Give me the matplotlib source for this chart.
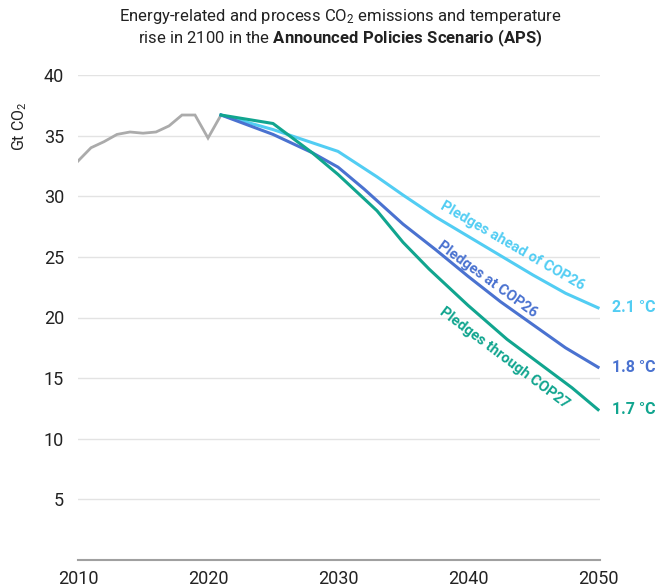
import matplotlib
matplotlib.use("Agg")
import matplotlib.pyplot as plt

plt.rcParams['font.family'] = ['Roboto', 'DejaVu Sans']
plt.rcParams['mathtext.fontset'] = 'custom'
plt.rcParams['mathtext.rm'] = 'Roboto'
plt.rcParams['mathtext.bf'] = 'Roboto:bold'
plt.rcParams['mathtext.it'] = 'Roboto:italic'

hist_years = [2010, 2011, 2012, 2013, 2014, 2015, 2016, 2017, 2018, 2019, 2020, 2021]
hist_vals = [32.9, 34.0, 34.5, 35.1, 35.3, 35.2, 35.3, 35.8, 36.7, 36.7, 34.8, 36.7]

ahead_years = [2021, 2025, 2030, 2033, 2035, 2037.5, 2040, 2042.5, 2045, 2047.5, 2050]
ahead_vals = [36.7, 35.5, 33.7, 31.6, 30.1, 28.3, 26.7, 25.1, 23.5, 22.0, 20.8]

at_years = [2021, 2025, 2028, 2030, 2032, 2035, 2037.5, 2040, 2042.5, 2045, 2047.5, 2050]
at_vals = [36.7, 35.1, 33.6, 32.4, 30.6, 27.7, 25.6, 23.4, 21.3, 19.4, 17.5, 15.9]

through_years = [2021, 2025, 2028, 2030, 2033, 2035, 2037, 2040, 2043, 2045, 2048, 2050]
through_vals = [36.7, 36.0, 33.6, 31.8, 28.8, 26.2, 24.0, 21.0, 18.2, 16.6, 14.2, 12.4]

y_ticks = [5, 10, 15, 20, 25, 30, 35, 40]
x_ticks = [2010, 2020, 2030, 2040, 2050]
end_labels = ["2.1 °C", "1.8 °C", "1.7 °C"]
series_labels = ["Pledges ahead of COP26", "Pledges at COP26", "Pledges through COP27"]

c_gray = "#ababab"
c_light = "#52cdf3"
c_dark = "#4a72d0"
c_teal = "#11a58f"

W, H = 656, 587
fig = plt.figure(figsize=(W / 100, H / 100), dpi=100)
ax = fig.add_axes([78 / W, 1 - 560 / H, (600 - 78) / W, (560 - 75) / H])
ax.set_xlim(2010, 2050.15)
ax.set_ylim(0, 40)

for s in ['top', 'right', 'left']:
    ax.spines[s].set_visible(False)
ax.spines['bottom'].set_color('#a0a0a0')
ax.spines['bottom'].set_linewidth(1.5)

ax.set_yticks(y_ticks)
ax.set_xticks(x_ticks)
ax.tick_params(axis='y', length=0, pad=10, labelsize=13, labelcolor='#222222')
ax.tick_params(axis='x', length=0, pad=7, labelsize=13, labelcolor='#222222')
ax.yaxis.grid(True, color='#e3e3e3', linewidth=1)
ax.set_axisbelow(True)

ax.plot(hist_years, hist_vals, color=c_gray, lw=2, solid_joinstyle='miter')
ax.plot(ahead_years, ahead_vals, color=c_light, lw=2.2)
ax.plot(at_years, at_vals, color=c_dark, lw=2.2)
ax.plot(through_years, through_vals, color=c_teal, lw=2.2)

ax.text(2043.4, 25.9, series_labels[0], color=c_light, fontsize=10.5, fontweight='bold',
        rotation=-30, ha='center', va='center')
ax.text(2041.5, 23.1, series_labels[1], color=c_dark, fontsize=10.5, fontweight='bold',
        rotation=-36, ha='center', va='center')
ax.text(2042.8, 16.7, series_labels[2], color=c_teal, fontsize=10.5, fontweight='bold',
        rotation=-37, ha='center', va='center')

for lab, val, col in zip(end_labels, [ahead_vals[-1], at_vals[-1], through_vals[-1]],
                         [c_light, c_dark, c_teal]):
    ax.annotate(lab, xy=(2050, val), xytext=(10, 0), textcoords='offset points',
                color=col, fontsize=11.5, fontweight='bold', va='center', ha='left',
                annotation_clip=False)

fig.text(20 / W, 1 - 126 / H, "Gt CO$_2$", rotation=90, ha='center', va='center',
         fontsize=11.5, color='#222222')

fig.text(340 / W, 1 - 16 / H, "Energy-related and process CO$_2$ emissions and temperature",
         ha='center', va='center', fontsize=12, color='#222222')
fig.text(340 / W, 1 - 38 / H,
         "rise in 2100 in the $\\mathbf{Announced\\ Policies\\ Scenario\\ (APS)}$",
         ha='center', va='center', fontsize=12, color='#222222')

fig.savefig("out.png", dpi=100)
